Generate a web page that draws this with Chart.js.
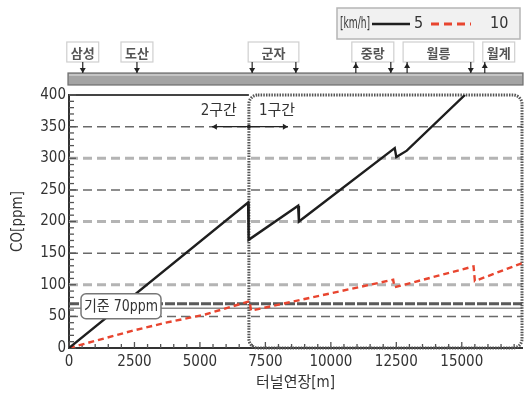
<!DOCTYPE html>
<html>
<head>
<meta charset="utf-8">
<script src="https://cdn.jsdelivr.net/npm/chart.js@4"></script>
<style>
  html, body { margin: 0; padding: 0; background: #fff; }
  canvas { display: block; }
</style>
</head>
<body>
<canvas id="chart" width="525" height="393"></canvas>
<script>
// CO along the tunnel, two walking speeds
const distance5 = [0, 6840, 6860, 8750, 8780, 12440, 12500, 12900, 15120];
const co5 = [0, 230, 171, 225, 200, 316, 302, 312, 400];
const distance10 = [0, 2400, 3700, 5200, 6900, 6950, 12380, 12430, 15450, 15500, 17300];
const co10 = [0, 27, 40, 53, 74, 59, 108, 96, 129, 106, 134];

const xTickValues = [0, 2500, 5000, 7500, 10000, 12500, 15000];
const yTickValues = [0, 50, 100, 150, 200, 250, 300, 350, 400];

const standardCO = 70;
const sectionBoundary = 6870;
const sectionArrowAt = 350;

// stations above the tunnel (positions in m)
const stationNames = ['삼성', '도산', '군자', '중랑', '월릉', '월계'];
const stationArrows = [[525], [2595], [6995, 8664], [10954, 12290], [12912, 15344], [15878]];
const stationDirs = [['down'], ['down'], ['down', 'down'], ['up', 'down'], ['up', 'down'], ['up']];

const FONT = '"DejaVu Sans Condensed", "Liberation Sans Narrow", "DejaVu Sans", "Noto Sans CJK KR", sans-serif';
const KFONT = '"Noto Sans CJK KR", "DejaVu Sans", sans-serif';
const BLACK = '#1e1e1e';
const RED = '#e8452f';

function arrowHead(ctx, x, y, dir, size) {
  ctx.beginPath();
  if (dir === 'down') { ctx.moveTo(x - size * 0.6, y - size); ctx.lineTo(x + size * 0.6, y - size); ctx.lineTo(x, y); }
  else if (dir === 'up') { ctx.moveTo(x - size * 0.6, y + size); ctx.lineTo(x + size * 0.6, y + size); ctx.lineTo(x, y); }
  else if (dir === 'left') { ctx.moveTo(x + size, y - size * 0.6); ctx.lineTo(x + size, y + size * 0.6); ctx.lineTo(x, y); }
  else { ctx.moveTo(x - size, y - size * 0.6); ctx.lineTo(x - size, y + size * 0.6); ctx.lineTo(x, y); }
  ctx.closePath();
  ctx.fill();
}

const decor = {
  id: 'decor',
  beforeDatasetsDraw(chart) {
    const { ctx, chartArea: a, scales: { x, y } } = chart;
    ctx.save();
    // dashed grid, alternating styles
    yTickValues.forEach(v => {
      if (v === 0 || v === 400) return;
      const py = y.getPixelForValue(v);
      ctx.beginPath();
      if (v % 100 === 0) { ctx.strokeStyle = '#b4b4b4'; ctx.lineWidth = 3; }
      else { ctx.strokeStyle = '#6a6a6a'; ctx.lineWidth = 1.5; }
      ctx.setLineDash([9, 5]);
      ctx.moveTo(a.left, py); ctx.lineTo(a.right, py);
      ctx.stroke();
    });
    // 70ppm standard
    const ps = y.getPixelForValue(standardCO);
    ctx.setLineDash([10, 2]);
    ctx.strokeStyle = '#5a5a5a'; ctx.lineWidth = 3;
    ctx.beginPath(); ctx.moveTo(a.left, ps); ctx.lineTo(a.right, ps); ctx.stroke();
    ctx.setLineDash([]);
    ctx.strokeStyle = '#8a8a8a'; ctx.lineWidth = 1.5;
    ctx.beginPath(); ctx.moveTo(a.left, ps + 4.5); ctx.lineTo(a.right, ps + 4.5); ctx.stroke();

    // top border for section 2, dotted box for section 1
    const bx = x.getPixelForValue(sectionBoundary);
    ctx.strokeStyle = '#444'; ctx.lineWidth = 2;
    ctx.beginPath(); ctx.moveTo(a.left, a.top); ctx.lineTo(bx, a.top); ctx.stroke();
    ctx.strokeStyle = '#555'; ctx.lineWidth = 3; ctx.setLineDash([1.5, 1.2]);
    ctx.beginPath(); ctx.roundRect(bx, a.top, a.right - bx, a.bottom - a.top, 9); ctx.stroke();
    ctx.setLineDash([]);

    // inward ticks
    ctx.strokeStyle = '#555'; ctx.lineWidth = 1.3;
    for (let v = 0; v <= 400; v += 10) {
      const py = y.getPixelForValue(v);
      const len = v % 50 === 0 ? 7 : 5;
      ctx.beginPath(); ctx.moveTo(a.left, py); ctx.lineTo(a.left + len, py); ctx.stroke();
    }
    for (let v = 0; v <= 17000; v += 500) {
      const px = x.getPixelForValue(v);
      const len = v % 2500 === 0 ? 6 : 4;
      ctx.beginPath(); ctx.moveTo(px, a.bottom); ctx.lineTo(px, a.bottom - len); ctx.stroke();
    }
    ctx.restore();
  },
  afterDraw(chart) {
    const { ctx, chartArea: a, scales: { x, y } } = chart;
    ctx.save();

    // standard label box
    const ps = y.getPixelForValue(standardCO) + 2.5;
    ctx.fillStyle = '#fff'; ctx.strokeStyle = '#777'; ctx.lineWidth = 1.5;
    ctx.beginPath(); ctx.roundRect(a.left + 12, ps - 12.5, 80, 25, 5); ctx.fill(); ctx.stroke();
    ctx.fillStyle = '#333'; ctx.font = '15px ' + FONT; ctx.textAlign = 'center'; ctx.textBaseline = 'middle';
    ctx.fillText('기준 70ppm', a.left + 52, ps + 1, 74);

    // section labels and arrows
    const bx = x.getPixelForValue(sectionBoundary);
    const ay = y.getPixelForValue(sectionArrowAt);
    ctx.font = '15px ' + FONT; ctx.fillStyle = '#333';
    ctx.textAlign = 'right'; ctx.fillText('2구간', bx - 12, a.top + 16, 40);
    ctx.textAlign = 'left'; ctx.fillText('1구간', bx + 10, a.top + 16, 40);
    ctx.strokeStyle = '#222'; ctx.fillStyle = '#222'; ctx.lineWidth = 1.2;
    ctx.beginPath(); ctx.moveTo(bx - 37, ay); ctx.lineTo(bx + 39, ay); ctx.stroke();
    arrowHead(ctx, bx - 37, ay, 'left', 5);
    arrowHead(ctx, bx + 39, ay, 'right', 5);
    ctx.beginPath(); ctx.arc(bx, ay, 2, 0, Math.PI * 2); ctx.fill();

    // tunnel bar
    const barTop = 73, barBot = 85;
    ctx.fillStyle = '#a4a4a4'; ctx.strokeStyle = '#6e6e6e'; ctx.lineWidth = 1.2;
    ctx.fillRect(a.left - 1, barTop, a.right - a.left + 2, barBot - barTop);
    ctx.strokeRect(a.left - 1, barTop, a.right - a.left + 2, barBot - barTop);
    ctx.fillStyle = '#c4c4c4';
    ctx.fillRect(a.left, barTop + 1, a.right - a.left, 2);

    // station boxes
    const boxTop = 42, boxBot = 62;
    let prevRight = -100;
    ctx.font = 'bold 13px ' + KFONT;
    stationNames.forEach((name, i) => {
      const pxs = stationArrows[i].map(m => x.getPixelForValue(m));
      const tw = ctx.measureText(name).width + 8;
      let left, right;
      if (pxs.length > 1) { left = pxs[0] - 4; right = pxs[pxs.length - 1] + 3; }
      else { left = pxs[0] - tw / 2; right = pxs[0] + tw / 2; }
      if (left < prevRight + 6) { const w = right - left; left = prevRight + 9; right = left + w; }
      prevRight = right;
      ctx.fillStyle = '#fff'; ctx.strokeStyle = '#cfcfcf'; ctx.lineWidth = 1.2;
      ctx.fillRect(left, boxTop, right - left, boxBot - boxTop);
      ctx.strokeRect(left, boxTop, right - left, boxBot - boxTop);
      ctx.fillStyle = '#555'; ctx.textAlign = 'center'; ctx.textBaseline = 'middle';
      ctx.fillText(name, (left + right) / 2, (boxTop + boxBot) / 2 + 1);
      ctx.strokeStyle = '#222'; ctx.fillStyle = '#222'; ctx.lineWidth = 1.2;
      pxs.forEach((px, j) => {
        ctx.beginPath(); ctx.moveTo(px, boxBot); ctx.lineTo(px, barTop); ctx.stroke();
        if (stationDirs[i][j] === 'down') arrowHead(ctx, px, barTop, 'down', 5);
        else arrowHead(ctx, px, boxBot + 1, 'up', 5);
      });
    });

    // legend
    ctx.fillStyle = '#f1f1f1'; ctx.strokeStyle = '#b5b5b5'; ctx.lineWidth = 1.5;
    ctx.fillRect(337, 8, 183, 31); ctx.strokeRect(337, 8, 183, 31);
    ctx.fillStyle = '#333'; ctx.font = '16px ' + FONT; ctx.textAlign = 'left'; ctx.textBaseline = 'middle';
    ctx.fillText('[km/h]', 340, 24, 30);
    ctx.strokeStyle = BLACK; ctx.lineWidth = 2.5;
    ctx.beginPath(); ctx.moveTo(372, 24); ctx.lineTo(410, 24); ctx.stroke();
    ctx.fillText(chart.data.datasets[0].label, 414, 24);
    ctx.strokeStyle = RED; ctx.lineWidth = 3; ctx.setLineDash([8, 5]);
    ctx.beginPath(); ctx.moveTo(431, 24); ctx.lineTo(471, 24); ctx.stroke();
    ctx.setLineDash([]);
    ctx.fillText(chart.data.datasets[1].label, 490, 24);
    ctx.restore();
  }
};

new Chart(document.getElementById('chart'), {
  type: 'line',
  data: {
    datasets: [
      {
        label: '5',
        data: distance5.map((d, i) => ({ x: d, y: co5[i] })),
        borderColor: BLACK, borderWidth: 2.4, pointRadius: 0, tension: 0
      },
      {
        label: '10',
        data: distance10.map((d, i) => ({ x: d, y: co10[i] })),
        borderColor: RED, borderWidth: 2.4, borderDash: [6, 4], pointRadius: 0, tension: 0
      }
    ]
  },
  options: {
    responsive: false,
    animation: false,
    layout: { padding: { top: 95, right: 3, left: 0, bottom: 0 } },
    plugins: { legend: { display: false }, tooltip: { enabled: false } },
    scales: {
      x: {
        type: 'linear', min: 0, max: 17300,
        afterBuildTicks: s => { s.ticks = xTickValues.map(v => ({ value: v })); },
        afterFit: s => { s.height = 45; },
        grid: { display: false, drawTicks: false },
        border: { display: true, color: '#333', width: 2 },
        ticks: { font: { family: FONT, size: 15 }, color: '#333', padding: 5, maxRotation: 0, autoSkip: false, callback: v => String(v) },
        title: { display: true, text: '터널연장[m]', font: { family: FONT, size: 15 }, color: '#333', padding: { top: 0, bottom: 1 } }
      },
      y: {
        min: 0, max: 400,
        afterBuildTicks: s => { s.ticks = yTickValues.map(v => ({ value: v })); },
        afterFit: s => { s.width = 69; },
        grid: { display: false, drawTicks: false },
        border: { display: true, color: '#333', width: 2 },
        ticks: { font: { family: FONT, size: 15 }, color: '#333', padding: 3, callback: v => String(v) },
        title: { display: true, text: 'CO[ppm]', font: { family: FONT, size: 15 }, color: '#333', padding: { top: 9, bottom: 0 } }
      }
    }
  },
  plugins: [decor]
});
</script>
</body>
</html>
